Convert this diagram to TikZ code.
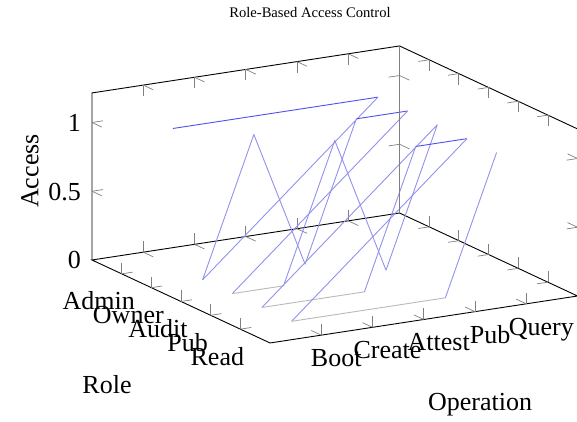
\documentclass[tikz,border=0pt]{standalone}
\usepackage{fontspec}
\setmainfont{Liberation Serif}
\definecolor{accHigh}{RGB}{80,80,240}
\definecolor{accMid}{RGB}{145,145,238}
\definecolor{accLow}{RGB}{185,185,185}
\begin{document}
\begin{tikzpicture}[x=1pt,y=1pt,
  boxline/.style={black, line width=0.9pt},
  backline/.style={gray, line width=1.8pt},
  tickline/.style={gray, line width=0.7pt},
  hi/.style={accHigh, line width=0.9pt, line join=round},
  mid/.style={accMid, line width=0.9pt, line join=round},
  lo/.style={accLow, line width=0.9pt, line join=round},
  lab/.style={inner sep=0pt, font=\fontsize{26}{30}\selectfont},
  ttl/.style={inner sep=0pt, font=\fontsize{14.6}{17}\selectfont}]
\useasboundingbox (0,0) rectangle (577,422);

\node[ttl] (title) at (310,409) {Role-Based Access Control};
\node[lab, rotate=90] (zlabel) at (30,251) {Access};
\node[lab] (ylabel) at (107,37) {Role};
\node[lab] (xlabel) at (480,17) {Operation};

\def\zt{1.215}
\begin{scope}[shift={(92,162)}, x={(51.25pt,7.83pt)}, y={(29.67pt,-13.83pt)}, z={(0pt,137.5pt)}]
  % box edges
  \draw[boxline] (0,0,0) -- (0,0,\zt) -- (6,0,\zt) -- (6,6,\zt) -- (6,6,0);
  \draw[boxline] (0,0,0) -- (6,0,0) -- (6,6,0) -- (0,6,0) -- cycle;

  % ticks along the operation axis
  \foreach \i in {1,...,5} {
    \draw[tickline] (\i,0,\zt) -- ++(0pt,-11pt);
    \draw[tickline] (\i,0,\zt) -- ++(9.97pt,-4.65pt);
    \draw[tickline] (\i,0,0) -- ++(0pt,11pt);
    \draw[tickline] (\i,0,0) -- ++(9.97pt,-4.65pt);
    \draw[tickline] (\i,6,0) -- ++(0pt,11pt);
    \draw[tickline] (\i,6,0) -- ++(-9.97pt,4.65pt);
  }
  % ticks along the role axis
  \foreach \i in {1,...,5} {
    \draw[tickline] (0,\i,0) -- ++(0pt,11pt);
    \draw[tickline] (0,\i,0) -- ++(10.87pt,1.66pt);
    \draw[tickline] (6,\i,0) -- ++(0pt,11pt);
    \draw[tickline] (6,\i,0) -- ++(-10.87pt,-1.66pt);
    \draw[tickline] (6,\i,\zt) -- ++(0pt,-11pt);
    \draw[tickline] (6,\i,\zt) -- ++(-10.87pt,-1.66pt);
  }
  % ticks along the access axis
  \foreach \k in {0.5,1} {
    \draw[tickline] (0,0,\k) -- ++(10.87pt,1.66pt);
    \draw[tickline] (0,0,\k) -- ++(9.97pt,-4.65pt);
    \draw[tickline] (6,0,\k) -- ++(-10.87pt,-1.66pt);
    \draw[tickline] (6,0,\k) -- ++(9.97pt,-4.65pt);
    \draw[tickline] (6,6,\k) -- ++(-10.87pt,-1.66pt);
    \draw[tickline] (6,6,\k) -- ++(-9.97pt,4.65pt);
  }

  % access data, row by row
  \draw[hi] (1,1,1) -- (2,1,1) -- (3,1,1) -- (4,1,1) -- (5,1,1);
  \draw[mid] (5,1,1) -- (1,2,0) -- (2,2,1) -- (3,2,0) -- (4,2,1);
  \draw[hi] (4,2,1) -- (5,2,1);
  \draw[mid] (5,2,1) -- (1,3,0);
  \draw[lo] (1,3,0) -- (2,3,0);
  \draw[mid] (2,3,0) -- (3,3,1) -- (4,3,0) -- (5,3,1) -- (1,4,0);
  \draw[lo] (1,4,0) -- (2,4,0) -- (3,4,0);
  \draw[mid] (3,4,0) -- (4,4,1);
  \draw[hi] (4,4,1) -- (5,4,1);
  \draw[mid] (5,4,1) -- (1,5,0);
  \draw[lo] (1,5,0) -- (2,5,0) -- (3,5,0) -- (4,5,0);
  \draw[mid] (4,5,0) -- (5,5,1);

  \draw[backline] (6,0,0) -- (6,0,\zt);

  % access tick labels
  \path (0,0,0) ++(-11pt,-8.8pt) node[lab, anchor=base east] (z0) {0};
  \path (0,0,0.5) ++(-11pt,-8.8pt) node[lab, anchor=base east] (z05) {0.5};
  \path (0,0,1) ++(-11pt,-8.8pt) node[lab, anchor=base east] (z1) {1};

  % role tick labels
  \path (0,1,0) ++(-23pt,-36pt) node[lab, anchor=base] (rAdmin) {Admin};
  \path (0,2,0) ++(-23pt,-36pt) node[lab, anchor=base] (rOwner) {Owner};
  \path (0,3,0) ++(-23pt,-36pt) node[lab, anchor=base] (rAudit) {Audit};
  \path (0,4,0) ++(-23pt,-36pt) node[lab, anchor=base] (rPub) {Pub};
  \path (0,5,0) ++(-23pt,-36pt) node[lab, anchor=base] (rRead) {Read};

  % operation tick labels
  \path (1,6,0) ++(15pt,-31.5pt) node[lab, anchor=base] (oBoot) {Boot};
  \path (2,6,0) ++(15pt,-31.5pt) node[lab, anchor=base] (oCreate) {Create};
  \path (3,6,0) ++(15pt,-31.5pt) node[lab, anchor=base] (oAttest) {Attest};
  \path (4,6,0) ++(15pt,-31.5pt) node[lab, anchor=base] (oPub) {Pub};
  \path (5,6,0) ++(15pt,-31.5pt) node[lab, anchor=base] (oQuery) {Query};
\end{scope}
\end{tikzpicture}
\end{document}
